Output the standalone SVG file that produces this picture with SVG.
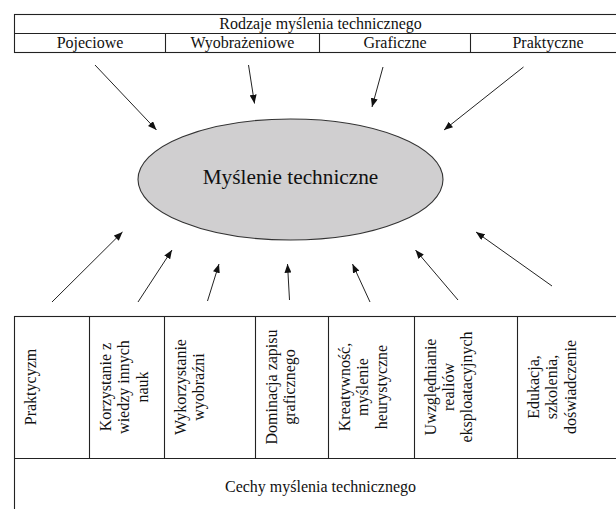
<svg xmlns="http://www.w3.org/2000/svg" width="616" height="509" viewBox="0 0 616 509">
<style>
.t{font-family:'Liberation Serif',Tinos,'Times New Roman',Times,'DejaVu Serif',serif;font-size:16px;fill:#111}
.c{text-anchor:middle}
.b{fill:none;stroke:#222;stroke-width:1.1}
.a{fill:none;stroke:#222;stroke-width:1;marker-end:url(#ah)}
</style>
<defs>
<marker id="ah" viewBox="0 0 10 8" refX="10" refY="4" markerWidth="9" markerHeight="7" markerUnits="userSpaceOnUse" orient="auto">
<path d="M0,0 L10,4 L0,8 z" fill="#111"/>
</marker>
</defs>
<rect width="616" height="509" fill="#fff"/>

<g font-family="Liberation Serif, Tinos, Times New Roman, DejaVu Serif, serif">
<g id="header">
<rect class="b" x="14.5" y="14.5" width="612" height="38"/>
<line class="b" x1="14.5" y1="33.5" x2="627" y2="33.5"/>
<text class="t c" x="320.5" y="28.5">Rodzaje myślenia technicznego</text>
</g>
<g id="h-pojeciowe">
<line class="b" x1="165.5" y1="33.5" x2="165.5" y2="52.5"/>
<text class="t c" x="90" y="48">Pojeciowe</text>
</g>
<g id="h-wyobrazeniowe">
<line class="b" x1="319.5" y1="33.5" x2="319.5" y2="52.5"/>
<text class="t c" x="242.5" y="48">Wyobrażeniowe</text>
</g>
<g id="h-graficzne">
<line class="b" x1="470.5" y1="33.5" x2="470.5" y2="52.5"/>
<text class="t c" x="395" y="48">Graficzne</text>
</g>
<g id="h-praktyczne">
<text class="t c" x="548" y="48">Praktyczne</text>
</g>

<g id="center">
<ellipse cx="290.5" cy="179.5" rx="152.5" ry="60.5" fill="#d0cfd0" stroke="#333" stroke-width="1.1"/>
<text class="t c" x="290.5" y="183.5" style="font-size:21.3px">Myślenie techniczne</text>
</g>

<g id="connectors">
<line class="a" x1="95" y1="65" x2="156.5" y2="130"/>
<line class="a" x1="248.5" y1="65" x2="254.5" y2="103.5"/>
<line class="a" x1="383" y1="67" x2="372" y2="107"/>
<line class="a" x1="523.5" y1="67" x2="444" y2="130"/>
<line class="a" x1="52" y1="302" x2="122.5" y2="232"/>
<line class="a" x1="138" y1="302" x2="172" y2="250"/>
<line class="a" x1="207.5" y1="301" x2="219" y2="264"/>
<line class="a" x1="289.5" y1="300" x2="287.5" y2="264"/>
<line class="a" x1="370" y1="302" x2="352.5" y2="264"/>
<line class="a" x1="458" y1="300" x2="415.5" y2="250"/>
<line class="a" x1="552" y1="286" x2="476" y2="232"/>
</g>

<g id="footer">
<rect class="b" x="14.5" y="316.5" width="612" height="210"/>
<line class="b" x1="14.5" y1="458.5" x2="627" y2="458.5"/>
<text class="t c" x="320.5" y="492">Cechy myślenia technicznego</text>
</g>
<g id="f-praktycyzm">
<line class="b" x1="89.5" y1="316.5" x2="89.5" y2="458.5"/>
<text class="t c" transform="translate(36,387) rotate(-90)">Praktycyzm</text>
</g>
<g id="f-korzystanie">
<line class="b" x1="164.5" y1="316.5" x2="164.5" y2="458.5"/>
<text class="t c" transform="translate(111,387) rotate(-90)"><tspan x="0" y="0">Korzystanie z</tspan><tspan x="0" y="18.4">wiedzy innych</tspan><tspan x="0" y="36.8">nauk</tspan></text>
</g>
<g id="f-wykorzystanie">
<line class="b" x1="255.5" y1="316.5" x2="255.5" y2="458.5"/>
<text class="t c" transform="translate(186,387) rotate(-90)"><tspan x="0" y="0">Wykorzystanie</tspan><tspan x="0" y="18.4">wyobraźni</tspan></text>
</g>
<g id="f-dominacja">
<line class="b" x1="328.5" y1="316.5" x2="328.5" y2="458.5"/>
<text class="t c" transform="translate(276.5,387) rotate(-90)"><tspan x="0" y="0">Dominacja zapisu</tspan><tspan x="0" y="18.4">graficznego</tspan></text>
</g>
<g id="f-kreatywnosc">
<line class="b" x1="414.5" y1="316.5" x2="414.5" y2="458.5"/>
<text class="t c" transform="translate(350,387) rotate(-90)"><tspan x="0" y="0">Kreatywność,</tspan><tspan x="0" y="18.4">myślenie</tspan><tspan x="0" y="36.8">heurystyczne</tspan></text>
</g>
<g id="f-uwzglednianie">
<line class="b" x1="517.5" y1="316.5" x2="517.5" y2="458.5"/>
<text class="t c" transform="translate(435.5,387) rotate(-90)"><tspan x="0" y="0">Uwzględnianie</tspan><tspan x="0" y="18.4">realiów</tspan><tspan x="0" y="36.8">eksploatacyjnych</tspan></text>
</g>
<g id="f-edukacja">
<text class="t c" transform="translate(539,387) rotate(-90)"><tspan x="0" y="0">Edukacja,</tspan><tspan x="0" y="18.4">szkolenia,</tspan><tspan x="0" y="36.8">doświadczenie</tspan></text>
</g>
</g>
</svg>
